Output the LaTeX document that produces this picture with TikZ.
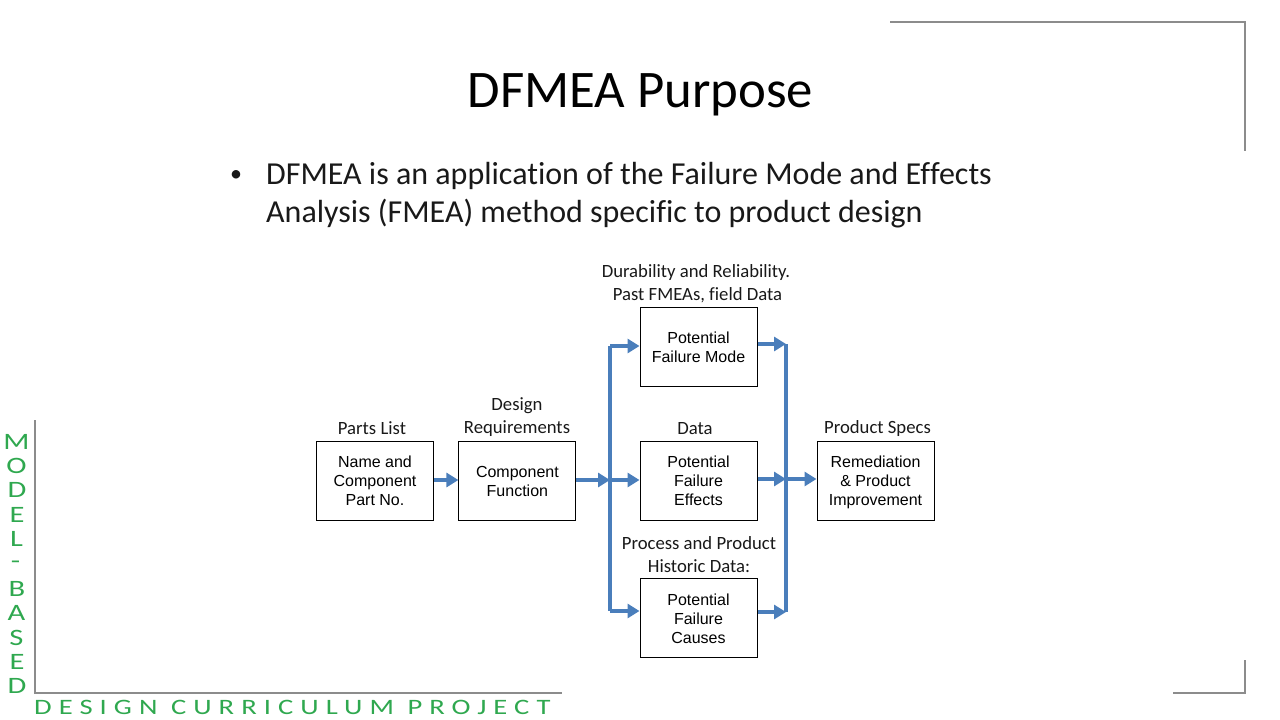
\documentclass[tikz,border=0pt]{standalone}
\usepackage{fontspec}
\setmainfont[Ligatures=NoCommon]{Carlito}
\newfontfamily\boxfont{Liberation Sans}
\newfontfamily\trackfont[LetterSpace=32,FakeStretch=1.3]{Carlito}
\newfontfamily\sidefont[FakeStretch=1.3]{Carlito}
\usetikzlibrary{arrows.meta}
\definecolor{flow}{HTML}{4A7EBB}
\definecolor{framegray}{HTML}{8C8C8C}
\definecolor{brandgreen}{HTML}{2FA84F}
\newcommand{\dropa}{\rule{0pt}{14pt}}
\newcommand{\dropb}{\rule{0pt}{16pt}}
\tikzset{
  stepbox/.style={draw=black,line width=1pt,fill=white,minimum width=117pt,minimum height=79pt,inner sep=0pt,align=center,font=\boxfont\fontsize{16}{19}\selectfont},
  caption/.style={inner sep=0pt,align=center,font=\fontsize{18.7}{23}\selectfont,text=black!90},
  flowline/.style={draw=flow,line width=4.5pt},
  flowarrow/.style={flowline,-{Triangle[length=12pt,width=14pt]}},
  framerule/.style={draw=framegray,line width=1.8pt},
  sideletter/.style={inner sep=0pt,text=brandgreen,font=\sidefont\fontsize{23.5}{23.5}\selectfont},
  bullettext/.style={inner sep=0pt,anchor=base west,font=\fontsize{32}{38}\selectfont,text=black!90}
}
\begin{document}
\begin{tikzpicture}[x=1pt,y=-1pt]
\useasboundingbox (0,0) rectangle (1280,720);
% frame
\coordinate (f1) at (890,22); \coordinate (f2) at (1245,22); \coordinate (f3) at (1245,151);
\coordinate (g1) at (1245,660); \coordinate (g2) at (1245,693); \coordinate (g3) at (1173,693);
\coordinate (h1) at (35,420); \coordinate (h2) at (35,693); \coordinate (h3) at (562,693);
\draw[framerule] (f1) -- (f2) -- (f3);
\draw[framerule] (g1) -- (g2) -- (g3);
\draw[framerule] (h1) -- (h2) -- (h3);
% title and bullet
\node[inner sep=0pt,font=\fontsize{52.8}{60}\selectfont,text=black] (title) at (640.5,94.5) {DFMEA Purpose};
\node[inner sep=0pt,font=\fontsize{24}{30}\selectfont,text=black!90,anchor=base] (dot) at (236,181) {•};
\node[bullettext] (line1) at (266,184) {DFMEA is an application of the Failure Mode and Ef\kern0ptfects};
\node[bullettext] (line2) at (266,222) {Analysis (FMEA) method specific to product design};
% boxes
\node[stepbox] (name) at (375,480.5) {Name and\\Component\\Part No.};
\node[stepbox] (func) at (517.4,480.5) {\dropa Component\\Function};
\node[stepbox] (mode) at (698.5,346.5) {\dropa Potential\\Failure Mode};
\node[stepbox] (effects) at (698.5,480.5) {Potential\\Failure\\Effects};
\node[stepbox] (causes) at (698.5,618) {\dropa Potential\\Failure\\Causes};
\node[stepbox] (remed) at (875.5,480.5) {\dropb Remediation\\\& Product\\Improvement};
% captions
\node[caption] (c1) at (696,284) {Durability and Reliability.\\[0pt]\hspace*{3pt}Past FMEAs, field Data};
\node[caption] (c2) at (372,428) {Parts List};
\node[caption] (c3) at (517,417.5) {Design\\Requirements};
\node[caption] (c4) at (695,429) {Data};
\node[caption] (c5) at (877.5,428.5) {Product Specs};
\node[caption] (c6) at (699,555) {Process and Product\\Historic Data:};
% connectors
\coordinate (lt) at (610,346); \coordinate (lm) at (610,480); \coordinate (lb) at (610,611);
\coordinate (rt) at (786,344); \coordinate (rm) at (786,479); \coordinate (rb) at (786,612);
\draw[flowarrow] (name.east |- 0,480) -- (func.west |- 0,480);
\draw[flowarrow] (func.east |- 0,480) -- (lm);
\draw[flowline,line cap=butt] (lt) -- (lb);
\draw[flowarrow] (lt) -- (lt -| mode.west);
\draw[flowarrow] (lm) -- (lm -| effects.west);
\draw[flowarrow] (lb) -- (lb -| causes.west);
\draw[flowarrow] (rt -| mode.east) -- (rt);
\draw[flowarrow] (rm -| effects.east) -- (rm);
\draw[flowarrow] (rb -| causes.east) -- (rb);
\draw[flowline] (rt) -- (rb);
\draw[flowarrow] (rm) -- (rm -| remed.west);
% branding
\node[sideletter] (s1) at (16.5,441.5) {M};
\node[sideletter] (s2) at (16.5,466) {O};
\node[sideletter] (s3) at (17,490) {D};
\node[sideletter] (s4) at (17,515) {E};
\node[sideletter] (s5) at (16.5,539) {L};
\node[sideletter] (s6) at (15.5,565) {-};
\node[sideletter] (s7) at (17,589) {B};
\node[sideletter] (s8) at (16.5,613) {A};
\node[sideletter] (s9) at (16.5,638) {S};
\node[sideletter] (s10) at (17,662) {E};
\node[sideletter] (s11) at (17,686) {D};
\node[inner sep=0pt,anchor=base west,text=brandgreen,font=\trackfont\fontsize{22}{22}\selectfont] (brand) at (34,714) {DESIGN CURRICULUM PROJECT};
\end{tikzpicture}
\end{document}
